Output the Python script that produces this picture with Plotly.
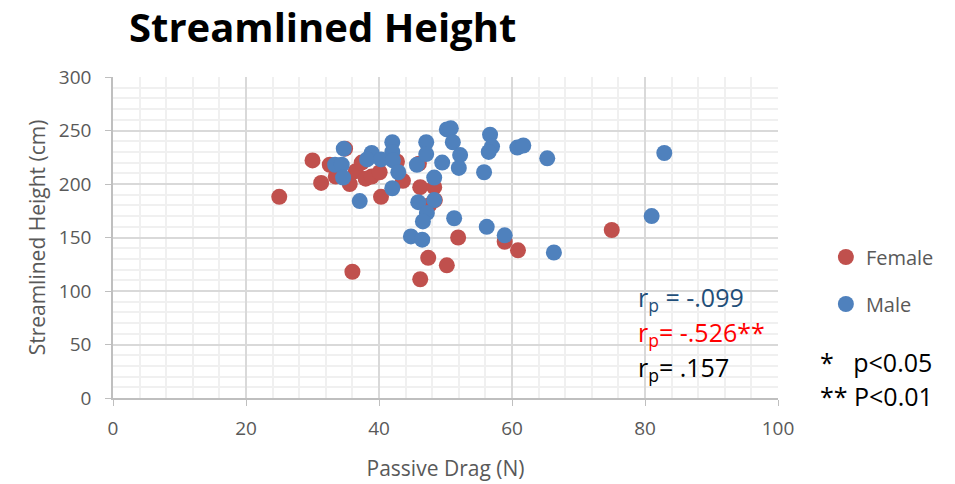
import plotly.graph_objects as go

female_drag = [25, 30, 31.3, 32.6, 33.5, 34.9, 35.6, 36, 36.5, 37.4, 38, 38.9, 40.1, 40.3,
               42.7, 43.6, 46, 46.2, 47.4, 48.3, 48.4, 46.2, 50.2, 51.9, 58.9, 60.9, 75, 47.5]
female_height = [188, 222, 201, 218, 207, 233, 200, 118, 212, 220, 205, 207, 211, 188,
                 221, 203, 219, 197, 131, 197, 185, 111, 124, 150, 146, 138, 157, 180]

male_drag = [34.7, 33.4, 34.4, 34.6, 37.1, 38.9, 38.2, 42, 42, 40.3, 42.1, 42.9, 42, 45.7,
             47.1, 47.1, 48.3, 45.9, 48.3, 47.2, 46.6, 44.8, 46.5, 49.5, 50.2, 50.8, 51.1,
             52.2, 52, 51.3, 55.8, 56.7, 57, 56.5, 56.2, 58.9, 60.8, 61.7, 65.3, 66.3, 82.9, 81]
male_height = [233, 218, 218, 206, 184, 229, 223, 239, 230, 223, 222, 211, 196, 218,
               239, 228, 206, 183, 185, 173, 165, 151, 148, 220, 251, 252, 239,
               227, 215, 168, 211, 246, 235, 230, 160, 152, 234, 236, 224, 136, 229, 170]

x_ticks = [0, 20, 40, 60, 80, 100]
y_ticks = [0, 50, 100, 150, 200, 250, 300]

FONT = "Open Sans"
GREY = "#595959"

fig = go.Figure()
fig.add_trace(go.Scatter(x=female_drag, y=female_height, mode="markers", name="Female",
                         legendgroup="f",
                         marker=dict(color="#C0504D", size=16, line=dict(width=0))))
fig.add_trace(go.Scatter(x=male_drag, y=male_height, mode="markers", name="Male",
                         legendgroup="m",
                         marker=dict(color="#4F81BD", size=16, line=dict(width=0))))

fig.update_layout(
    width=955, height=484,
    margin=dict(l=113, r=177, t=77, b=86),
    paper_bgcolor="white", plot_bgcolor="white",
    font=dict(family=FONT, color=GREY, size=19),
    title=dict(text="<b>Streamlined Height</b>", x=(129) / 955, xanchor="left",
               y=1 - 28 / 484, yanchor="middle",
               font=dict(family=FONT, size=40, color="black")),
    showlegend=True,
    legend=dict(x=1.072, y=0.5, xanchor="left", yanchor="top",
                font=dict(family=FONT, size=20, color=GREY),
                tracegroupgap=18, itemwidth=30, bgcolor="rgba(0,0,0,0)"),
    xaxis=dict(range=[0, 100], tickvals=x_ticks, ticktext=[str(v) for v in x_ticks],
               showgrid=True, gridcolor="#D9D9D9", gridwidth=1.5,
               minor=dict(dtick=4, showgrid=True, gridcolor="#F0F0F0", gridwidth=2),
               showline=True, linecolor="#BFBFBF", linewidth=1.5,
               ticks="outside", ticklen=6, tickcolor="#BFBFBF",
               ticklabelstandoff=6, automargin=False,
               zeroline=False, tickfont=dict(size=19, color=GREY),
               title=dict(text="Passive Drag (N)", font=dict(size=21, color=GREY), standoff=22)),
    yaxis=dict(range=[0, 300], tickvals=y_ticks, ticktext=[str(v) for v in y_ticks],
               showgrid=True, gridcolor="#D9D9D9", gridwidth=1.5,
               minor=dict(dtick=10, showgrid=True, gridcolor="#F0F0F0", gridwidth=2),
               showline=True, linecolor="#BFBFBF", linewidth=1.5,
               ticks="outside", ticklen=6, tickcolor="#BFBFBF",
               ticklabelstandoff=10, automargin=False,
               zeroline=False, tickfont=dict(size=19, color=GREY),
               title=dict(text="Streamlined Height (cm)", font=dict(size=21, color=GREY), standoff=8)),
)

annots = [
    ("r<sub>p</sub> = -.099", "#1F4E79", 636, 298),
    ("r<sub>p</sub>= -.526**", "#FF0000", 636, 333),
    ("r<sub>p</sub>= .157", "#000000", 636, 368),
    ("*   p<0.05", "#000000", 818, 362),
    ("** P<0.01", "#000000", 818, 396),
]
for txt, col, px, py in annots:
    fig.add_annotation(text=txt, xref="paper", yref="paper",
                       x=(px - 113) / 665, y=(398 - py) / 321,
                       xanchor="left", yanchor="middle", showarrow=False,
                       font=dict(family=FONT, size=25, color=col))

fig.write_html("out.html")
